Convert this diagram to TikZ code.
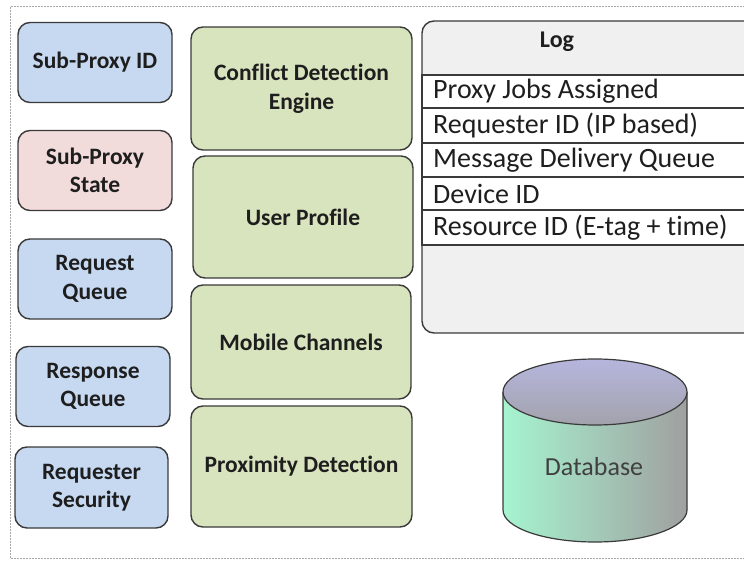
\documentclass[tikz,border=0pt]{standalone}
\usepackage{fontspec}
\setmainfont[Ligatures=NoCommon]{Carlito}
\definecolor{boxblue}{HTML}{C6D9F1}
\definecolor{boxpink}{HTML}{F2DCDB}
\definecolor{boxgreen}{HTML}{D7E4BD}
\definecolor{edge}{HTML}{3A3A3A}
\definecolor{txt}{HTML}{1E1E1E}
\definecolor{loggray}{HTML}{F0F0F0}
\definecolor{border}{HTML}{A8A8A8}
\definecolor{dbleft}{HTML}{A6F4D0}
\definecolor{dbright}{HTML}{A0A0A0}
\definecolor{dbtop}{HTML}{B6B6DE}
\definecolor{dbtopb}{HTML}{A2A2AC}
\tikzset{
  rbox/.style={draw=edge, line width=1.4pt, rounded corners=12pt, inner sep=0pt,
    align=center, text=txt, font=\bfseries\fontsize{23.5}{28.5}\selectfont},
  bluebox/.style={rbox, fill=boxblue, minimum width=154pt, minimum height=80pt},
  pinkbox/.style={rbox, fill=boxpink, minimum width=154pt, minimum height=80pt},
  greenbox/.style={rbox, fill=boxgreen, minimum width=221pt, minimum height=122pt},
  logrow/.style={draw=edge, line width=1.4pt, fill=white},
  rowtext/.style={anchor=west, inner sep=0pt, text=txt, font=\fontsize{28}{34}\selectfont},
}
\begin{document}
\begin{tikzpicture}[x=1pt,y=-1pt]
\useasboundingbox (0,0) rectangle (744,561);
\clip (0,0) rectangle (744,561);
% outer frame
\draw[border, line width=1pt, dash pattern=on 2pt off 1pt] (10,7) rectangle (770,558);
% left column
\node[bluebox] (spid) at (95,62.5) {Sub-Proxy ID};
\node[pinkbox] (spst) at (95,170.5) {Sub-Proxy\\State};
\node[bluebox] (reqq) at (95,279) {Request\\Queue};
\node[bluebox] (resq) at (93,386.5) {Response\\Queue};
\node[bluebox, minimum width=153pt, minimum height=81pt] (rsec) at (91.5,487.5) {Requester\\Security};
% middle column
\node[greenbox, minimum height=123pt] (cde) at (301.5,88.5) {Conflict Detection\\Engine};
\node[greenbox, minimum width=220pt] (up) at (303,217) {User Profile};
\node[greenbox, minimum width=220pt, minimum height=114pt] (mc) at (301,342) {Mobile Channels};
\node[greenbox, minimum height=121pt] (pd) at (301.5,466.5) {Proximity Detection};
% log
\draw[draw=edge, line width=1.4pt, fill=loggray, rounded corners=12pt] (422,21) rectangle (790,333);
\node[inner sep=0pt, text=txt, font=\bfseries\fontsize{24}{28}\selectfont] (logt) at (557,42) {Log};
\draw[logrow] (422,75) rectangle (790,108);
\draw[logrow] (422,108) rectangle (790,143);
\draw[logrow] (422,143) rectangle (790,177);
\draw[logrow] (422,177) rectangle (790,210);
\draw[logrow] (422,210) rectangle (790,245);
\node[rowtext] (r1) at (433,91.5) {Proxy Jobs Assigned};
\node[rowtext] (r2) at (433,125.5) {Requester ID (IP based)};
\node[rowtext] (r3) at (433,160) {Message Delivery Queue};
\node[rowtext] (r4) at (433,193.5) {Device ID};
\node[rowtext] (r5) at (433,227.5) {Resource ID (E-tag + time)};
% database
\path[left color=dbleft, right color=dbright]
  (503,392) -- (503,510) arc[start angle=180, end angle=360, x radius=92pt, y radius=32pt] -- (687,392) -- cycle;
\draw[edge, line width=1.2pt]
  (503,392) -- (503,510) arc[start angle=180, end angle=360, x radius=92pt, y radius=32pt] -- (687,392);
\shade[top color=dbtop, bottom color=dbtopb] (595,392) ellipse[x radius=92pt, y radius=33pt];
\draw[edge, line width=1.2pt] (595,392) ellipse[x radius=92pt, y radius=33pt];
\node[inner sep=0pt, text=txt!85, font=\fontsize{26}{30}\selectfont] (db) at (594,467) {Database};
\end{tikzpicture}
\end{document}
